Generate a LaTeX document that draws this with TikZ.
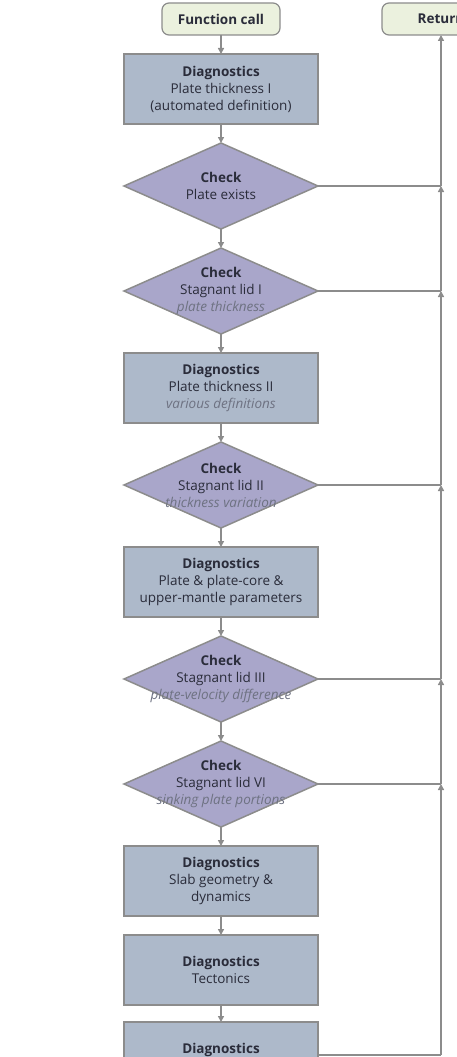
\documentclass[tikz,border=0pt]{standalone}
\usepackage{fontspec}
\setmainfont{Open Sans}
\usetikzlibrary{positioning,shapes.geometric,arrows.meta}
\definecolor{diagfill}{HTML}{ADB9CA}
\definecolor{checkfill}{HTML}{A9A6CA}
\definecolor{termfill}{HTML}{EBF1DE}
\definecolor{edgegray}{HTML}{8C8C8C}
\definecolor{subgray}{HTML}{6E7282}
\definecolor{bodyink}{HTML}{2A2C3A}

\begin{document}
\begin{tikzpicture}[x=1pt, y=-1pt, node distance=19pt,
    font=\fontsize{13.5}{17}\selectfont, text=bodyink,
    term/.style={rectangle, draw=edgegray, fill=termfill, line width=1.2pt, outer sep=0pt, rounded corners=7pt, minimum width=118pt, minimum height=32pt, font=\fontsize{13.5}{17}\selectfont\bfseries},
    diag/.style={rectangle, draw=edgegray, fill=diagfill, line width=1.5pt, outer sep=0pt, minimum width=194pt, minimum height=70pt, align=center},
    check/.style={diamond, draw=edgegray, fill=checkfill, line width=1.5pt, outer sep=0pt, minimum width=194pt, minimum height=86pt, inner sep=0pt},
    checktext/.style={align=center},
    arrow/.style={line width=1.5pt, draw=edgegray, -{Triangle[length=6pt, width=6pt]}},
    link/.style={line width=1.5pt, draw=edgegray}]

    \useasboundingbox (0,0) rectangle (456,1057);

    \node [term] (call) at (221,19) {Function call};
    \node [term] (ret) at (441,19) {Return};

    \node [diag, below=of call] (thickA) {\textbf{Diagnostics}\\Plate thickness I\\(automated definition)};
    \node [check, below=of thickA] (exists) {};
    \node [checktext] (existsTxt) at (exists) {\textbf{Check}\\Plate exists};
    \node [check, below=of exists] (lidA) {};
    \node [checktext] (lidATxt) at (lidA) {\textbf{Check}\\Stagnant lid I\\\textcolor{subgray}{\itshape plate thickness}};
    \node [diag, below=of lidA] (thickB) {\textbf{Diagnostics}\\Plate thickness II\\\textcolor{subgray}{\itshape various definitions}};
    \node [check, below=of thickB] (lidB) {};
    \node [checktext] (lidBTxt) at (lidB) {\textbf{Check}\\Stagnant lid II\\\textcolor{subgray}{\itshape thickness variation}};
    \node [diag, below=of lidB] (params) {\textbf{Diagnostics}\\Plate \& plate-core \&\\upper-mantle parameters};
    \node [check, below=of params] (lidC) {};
    \node [checktext] (lidCTxt) at (lidC) {\textbf{Check}\\Stagnant lid III\\\textcolor{subgray}{\itshape plate-velocity difference}};
    \node [check, below=of lidC] (lidD) {};
    \node [checktext] (lidDTxt) at (lidD) {\textbf{Check}\\Stagnant lid VI\\\textcolor{subgray}{\itshape sinking plate portions}};
    \node [diag, below=of lidD] (slab) {\textbf{Diagnostics}\\Slab geometry \&\\dynamics};
    \node [diag, below=of slab] (tecton) {\textbf{Diagnostics}\\Tectonics};
    \node [diag, below=17pt of tecton] (last) {\textbf{Diagnostics}\\\phantom{x}};

    % main chain
    \draw [arrow] (call) -- (thickA);
    \draw [arrow] (thickA) -- (exists);
    \draw [arrow] (exists) -- (lidA);
    \draw [arrow] (lidA) -- (thickB);
    \draw [arrow] (thickB) -- (lidB);
    \draw [arrow] (lidB) -- (params);
    \draw [arrow] (params) -- (lidC);
    \draw [arrow] (lidC) -- (lidD);
    \draw [arrow] (lidD) -- (slab);
    \draw [arrow] (slab) -- (tecton);
    \draw [arrow] (tecton) -- (last);

    % return line
    \coordinate (j1) at (ret |- exists);
    \coordinate (j2) at (ret |- lidA);
    \coordinate (j3) at (ret |- lidB);
    \coordinate (j4) at (ret |- lidC);
    \coordinate (j5) at (ret |- lidD);
    \coordinate (j6) at (441,1055);

    \draw [link] (exists.east) -- (j1);
    \draw [link] (lidA.east) -- (j2);
    \draw [link] (lidB.east) -- (j3);
    \draw [link] (lidC.east) -- (j4);
    \draw [link] (lidD.east) -- (j5);
    \draw [link] (last.east |- j6) -- (j6);

    \draw [arrow] (j6) -- (j5);
    \draw [arrow] (j5) -- (j4);
    \draw [arrow] (j4) -- (j3);
    \draw [arrow] (j3) -- (j2);
    \draw [arrow] (j2) -- (j1);
    \draw [arrow] (j1) -- (ret);
\end{tikzpicture}
\end{document}
